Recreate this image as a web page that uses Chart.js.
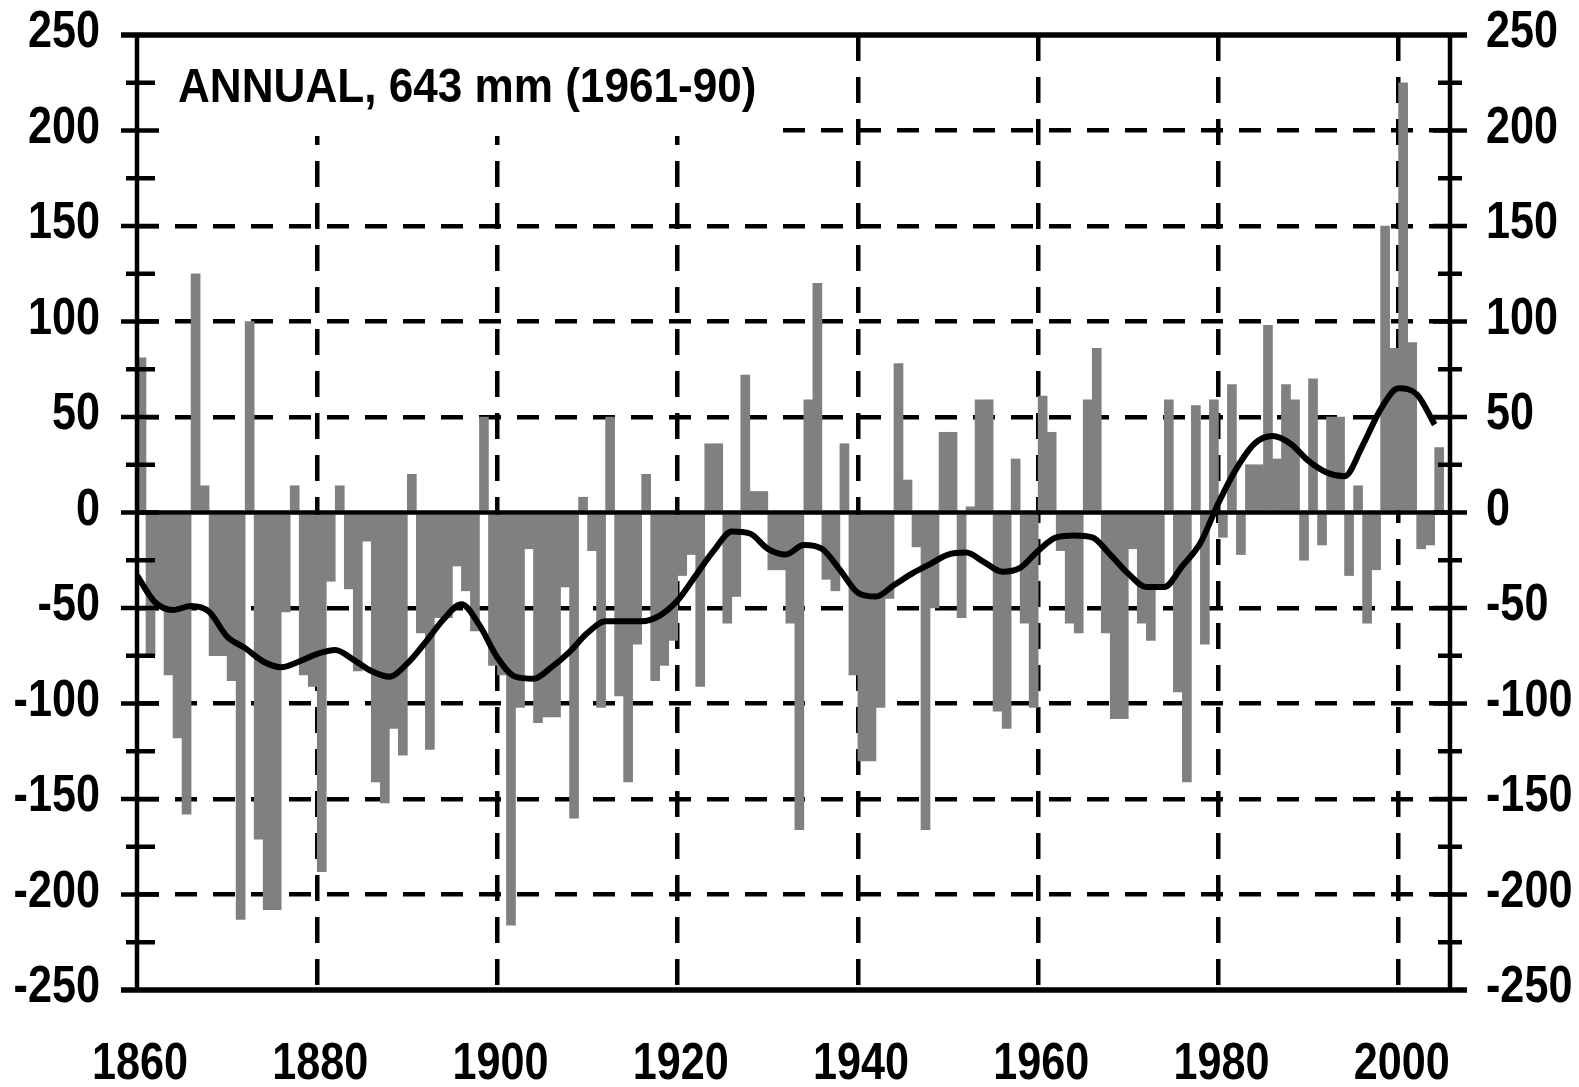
<!DOCTYPE html>
<html>
<head>
<meta charset="utf-8">
<title>Annual precipitation anomalies</title>
<script src="https://cdn.jsdelivr.net/npm/chart.js@4.4.1/dist/chart.umd.min.js"></script>
<style>
  html, body { margin: 0; padding: 0; background: #fff; }
  #wrap { width: 1579px; height: 1087px; }
</style>
</head>
<body>
<div id="wrap"><canvas id="rainChart" width="1579" height="1087"></canvas></div>
<script>
// annual anomalies (mm) against 1961-90 mean
const years = [
  1860, 1861, 1862, 1863, 1864, 1865, 1866, 1867, 1868, 1869,
  1870, 1871, 1872, 1873, 1874, 1875, 1876, 1877, 1878, 1879,
  1880, 1881, 1882, 1883, 1884, 1885, 1886, 1887, 1888, 1889,
  1890, 1891, 1892, 1893, 1894, 1895, 1896, 1897, 1898, 1899,
  1900, 1901, 1902, 1903, 1904, 1905, 1906, 1907, 1908, 1909,
  1910, 1911, 1912, 1913, 1914, 1915, 1916, 1917, 1918, 1919,
  1920, 1921, 1922, 1923, 1924, 1925, 1926, 1927, 1928, 1929,
  1930, 1931, 1932, 1933, 1934, 1935, 1936, 1937, 1938, 1939,
  1940, 1941, 1942, 1943, 1944, 1945, 1946, 1947, 1948, 1949,
  1950, 1951, 1952, 1953, 1954, 1955, 1956, 1957, 1958, 1959,
  1960, 1961, 1962, 1963, 1964, 1965, 1966, 1967, 1968, 1969,
  1970, 1971, 1972, 1973, 1974, 1975, 1976, 1977, 1978, 1979,
  1980, 1981, 1982, 1983, 1984, 1985, 1986, 1987, 1988, 1989,
  1990, 1991, 1992, 1993, 1994, 1995, 1996, 1997, 1998, 1999,
  2000, 2001, 2002, 2003, 2004
];
const anomaly = [
  81, -75, -50, -85, -118, -158, 125, 14, -75, -75,
  -88, -213, 100, -171, -208, -208, -52, 14, -85, -91,
  -188, -36, 14, -40, -83, -15, -141, -152, -113, -127,
  20, -63, -124, -55, -55, -28, -41, -62, 50, -80,
  -85, -216, -102, -19, -110, -107, -107, -39, -160, 8,
  -20, -102, 50, -96, -141, -69, 20, -88, -80, -67,
  -33, -22, -91, 36, 36, -58, -44, 72, 11, 11,
  -30, -30, -58, -166, 59, 120, -35, -41, 36, -85,
  -130, -130, -102, -45, 78, 17, -18, -166, -50, 42,
  42, -55, 3, 59, 59, -104, -113, 28, -58, -102,
  61, 42, -20, -58, -63, 59, 86, -63, -108, -108,
  -19, -58, -67, -38, 59, -94, -141, 56, -69, 59,
  -13, 67, -22, 25, 25, 98, 28, 67, 59, -25,
  70, -17, 50, 50, -33, 14, -58, -30, 150, 86,
  225, 89, -19, -17, 34
];

const smoothYears = [
  1860, 1862, 1864, 1866, 1868, 1870, 1872, 1874, 1876, 1878,
  1880, 1882, 1884, 1886, 1888, 1890, 1892, 1894, 1896, 1898,
  1900, 1902, 1904, 1906, 1908, 1910, 1912, 1914, 1916, 1918,
  1920, 1922, 1924, 1926, 1928, 1930, 1932, 1934, 1936, 1938,
  1940, 1942, 1944, 1946, 1948, 1950, 1952, 1954, 1956, 1958,
  1960, 1962, 1964, 1966, 1968, 1970, 1972, 1974, 1976, 1978,
  1980, 1982, 1984, 1986, 1988, 1990, 1992, 1994, 1996, 1998,
  2000, 2002, 2004
];
const smoothAnomaly = [
  -33, -47, -51, -49, -52, -65, -71, -78, -81, -78,
  -74, -72, -77, -83, -86, -79, -68, -56, -48, -59,
  -76, -86, -87, -81, -73, -63, -57, -57, -57, -54,
  -46, -33, -20, -10, -11, -19, -22, -17, -19, -30,
  -42, -44, -38, -32, -27, -22, -21, -26, -31, -29,
  -20, -13, -12, -13, -22, -32, -39, -39, -28, -16,
  5, 23, 36, 40, 36, 27, 21, 19, 35, 54,
  65, 62, 46
];

const yearTicks = [1860, 1880, 1900, 1920, 1940, 1960, 1980, 2000];
const mmTicks = [250, 200, 150, 100, 50, 0, -50, -100, -150, -200, -250];
const titleText = 'ANNUAL, 643 mm (1961-90)';

const fontFamily = "'Liberation Sans', Arial, sans-serif";

const barPoints = years.map((y, i) => ({ x: y + 0.5, y: anomaly[i] }));
const linePoints = smoothYears.map((y, i) => ({ x: y, y: smoothAnomaly[i] }));

// the labels in the original are tall and narrow, so squeeze them sideways
function narrowText(ctx, text, x, y, align, squeeze) {
  ctx.save();
  ctx.translate(x, y);
  ctx.scale(squeeze, 1);
  ctx.textAlign = align;
  ctx.fillText(text, 0, 0);
  ctx.restore();
}

const framePlugin = {
  id: 'frame',
  beforeDatasetsDraw(chart) {
    const { ctx, chartArea: a } = chart;
    ctx.save();
    ctx.fillStyle = '#fff';
    ctx.fillRect(a.left + 2, a.top + 2, 768 - a.left, 134 - a.top);
    ctx.restore();
  },
  afterDatasetDraw(chart, args) {
    if (args.index !== 1) return;
    const { ctx, chartArea: a, scales } = chart;
    const y0 = scales.y.getPixelForValue(0);
    ctx.save();
    ctx.strokeStyle = '#000';
    ctx.lineWidth = 4.5;
    ctx.beginPath();
    ctx.moveTo(a.left, y0);
    ctx.lineTo(a.right, y0);
    ctx.stroke();
    ctx.restore();
  },
  afterDatasetsDraw(chart) {
    const { ctx, chartArea: a, scales } = chart;
    ctx.save();
    ctx.strokeStyle = '#000';
    ctx.lineWidth = 4.5;
    ctx.beginPath();
    ctx.moveTo(a.left, a.top); ctx.lineTo(a.left, a.bottom);
    ctx.moveTo(a.right, a.top); ctx.lineTo(a.right, a.bottom);
    ctx.stroke();
    ctx.lineWidth = 5.5;
    ctx.beginPath();
    ctx.moveTo(a.left - 16, a.top); ctx.lineTo(a.right + 17, a.top);
    ctx.moveTo(a.left - 16, a.bottom); ctx.lineTo(a.right + 17, a.bottom);
    ctx.stroke();
    ctx.lineWidth = 4.5;
    ctx.beginPath();
    for (let v = -225; v <= 225; v += 25) {
      const y = scales.y.getPixelForValue(v);
      const major = v % 50 === 0;
      ctx.moveTo(a.left - (major ? 16 : 11), y);
      ctx.lineTo(a.left + (major ? 22 : 18), y);
      ctx.moveTo(a.right - (major ? 17 : 12), y);
      ctx.lineTo(a.right + (major ? 17 : 12), y);
    }
    ctx.stroke();

    ctx.fillStyle = '#000';
    ctx.textBaseline = 'middle';
    ctx.font = 'bold 52px ' + fontFamily;
    mmTicks.forEach(v => {
      const y = scales.y.getPixelForValue(v) - 2;
      narrowText(ctx, String(v), a.left - 37, y, 'right', 0.83);
      narrowText(ctx, String(v), a.right + 36, y, 'left', 0.83);
    });
    yearTicks.forEach(v => {
      narrowText(ctx, String(v), scales.x.getPixelForValue(v) + 3, 1065, 'center', 0.83);
    });

    ctx.textBaseline = 'alphabetic';
    ctx.font = 'bold 49px ' + fontFamily;
    narrowText(ctx, titleText, 178, 102, 'left', 0.9);
    ctx.restore();
  }
};

const chart = new Chart(document.getElementById('rainChart').getContext('2d'), {
  data: {
    datasets: [
      {
        type: 'line',
        label: 'smoothed',
        data: linePoints,
        borderColor: '#000',
        borderWidth: 6,
        pointRadius: 0,
        fill: false,
        cubicInterpolationMode: 'monotone',
        order: 0
      },
      {
        type: 'bar',
        label: 'annual',
        data: barPoints,
        backgroundColor: '#808080',
        borderWidth: 0,
        barPercentage: 1,
        categoryPercentage: 1,
        order: 1
      }
    ]
  },
  options: {
    responsive: false,
    animation: false,
    devicePixelRatio: 1,
    layout: { padding: { top: 35, left: 0, right: 0, bottom: 0 } },
    plugins: {
      legend: { display: false },
      tooltip: { enabled: false }
    },
    scales: {
      x: {
        type: 'linear',
        min: 1860,
        max: 2005.7,
        offset: false,
        afterBuildTicks: s => { s.ticks = yearTicks.map(v => ({ value: v })); },
        afterFit: s => { s.height = 97; },
        ticks: { display: false },
        grid: {
          offset: false,
          color: c => (c.tick && c.tick.value === 1860 ? 'rgba(0,0,0,0)' : '#000'),
          lineWidth: 4.5,
          drawTicks: false
        },
        border: { display: false, dash: [26, 16] }
      },
      y: {
        type: 'linear',
        position: 'left',
        min: -250,
        max: 250,
        afterFit: s => { s.width = 137; },
        ticks: { stepSize: 50, display: false },
        grid: {
          color: c => (c.tick && [0, 250, -250].includes(c.tick.value) ? 'rgba(0,0,0,0)' : '#000'),
          lineWidth: 4.5,
          drawTicks: false
        },
        border: { display: false, dash: [22, 16] }
      },
      y2: {
        type: 'linear',
        position: 'right',
        min: -250,
        max: 250,
        afterFit: s => { s.width = 129; },
        ticks: { stepSize: 50, display: false },
        grid: { drawOnChartArea: false, drawTicks: false },
        border: { display: false }
      }
    }
  },
  plugins: [framePlugin]
});
</script>
</body>
</html>
